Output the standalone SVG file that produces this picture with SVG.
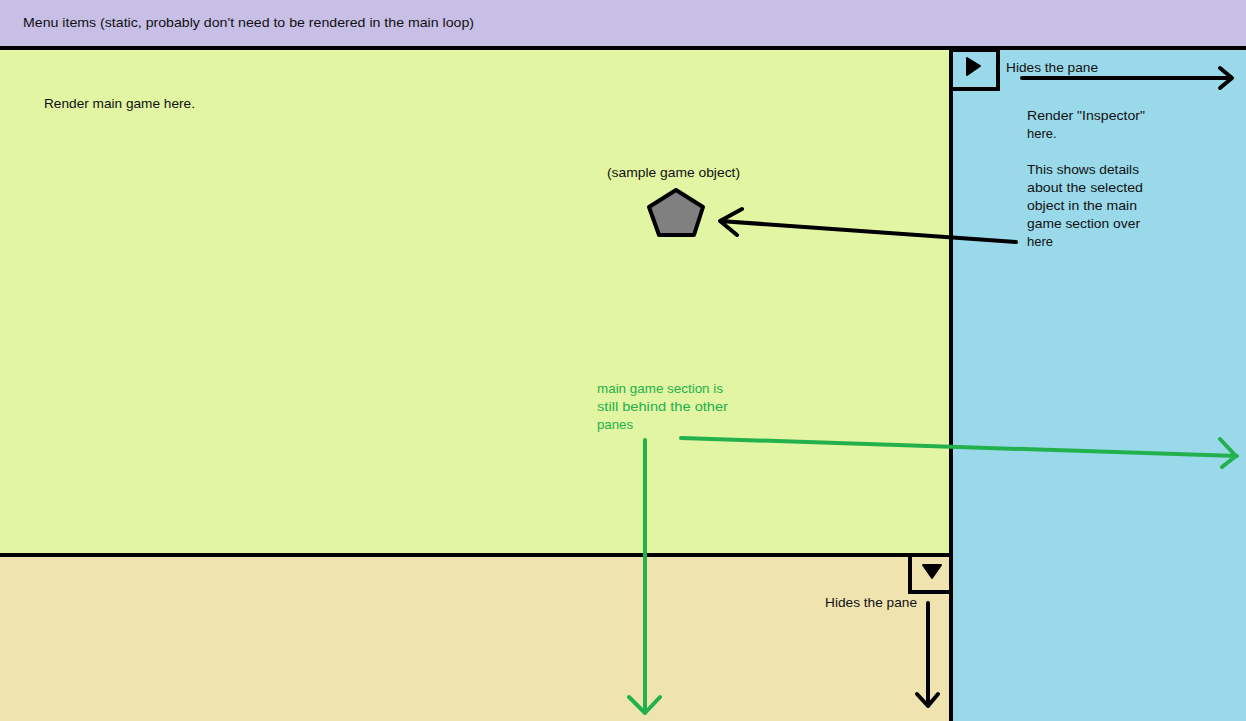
<svg xmlns="http://www.w3.org/2000/svg" width="1246" height="721" viewBox="0 0 1246 721">
<style>
text{font-family:"Liberation Sans",Arial,sans-serif;font-size:13px;fill:#111}
.g{fill:#22b14c}
.ln{stroke:#000;stroke-width:4;fill:none;stroke-linecap:round;stroke-linejoin:round}
.gl{stroke:#22b14c;stroke-width:4;fill:none;stroke-linecap:round;stroke-linejoin:round}
</style>
<g id="menu">
<rect x="0" y="0" width="1246" height="48" fill="#c8bfe7"/>
<text x="23" y="27" textLength="451" lengthAdjust="spacingAndGlyphs">Menu items (static, probably don't need to be rendered in the main loop)</text>
</g>
<g id="main-game">
<rect x="0" y="48" width="951" height="507" fill="#e2f5a2"/>
<text x="44" y="108" textLength="151" lengthAdjust="spacingAndGlyphs">Render main game here.</text>
</g>
<g id="bottom-pane">
<rect x="0" y="555" width="951" height="166" fill="#efe4b0"/>
</g>
<g id="inspector">
<rect x="951" y="48" width="295" height="673" fill="#99d9ea"/>
<text x="1027" y="120" textLength="118" lengthAdjust="spacingAndGlyphs">Render "Inspector"</text>
<text x="1027" y="138">here.</text>
<text x="1027" y="174" textLength="112" lengthAdjust="spacingAndGlyphs">This shows details</text>
<text x="1027" y="192" textLength="116" lengthAdjust="spacingAndGlyphs">about the selected</text>
<text x="1027" y="210" textLength="110" lengthAdjust="spacingAndGlyphs">object in the main</text>
<text x="1027" y="228" textLength="113" lengthAdjust="spacingAndGlyphs">game section over</text>
<text x="1027" y="246">here</text>
</g>
<g id="borders">
<rect x="0" y="46" width="1246" height="4" fill="#000"/>
<rect x="949" y="48" width="4" height="673" fill="#000"/>
<rect x="0" y="553" width="953" height="4" fill="#000"/>
</g>
<g id="right-toggle">
<path d="M951 50 H998 V89 H951" fill="none" stroke="#000" stroke-width="4"/>
<polygon points="967,58 980,66 967,75" fill="#000" stroke="#000" stroke-width="2" stroke-linejoin="round"/>
<text x="1006" y="72" textLength="92" lengthAdjust="spacingAndGlyphs">Hides the pane</text>
</g>
<g id="bottom-toggle">
<path d="M951 555 V592 H910 V555" fill="none" stroke="#000" stroke-width="4"/>
<polygon points="923,565 941,565 932,578" fill="#000" stroke="#000" stroke-width="2" stroke-linejoin="round"/>
<text x="825" y="607" textLength="92" lengthAdjust="spacingAndGlyphs">Hides the pane</text>
</g>
<g id="sample-object">
<text x="607" y="177" textLength="133" lengthAdjust="spacingAndGlyphs">(sample game object)</text>
<polygon points="676,190 703,207 694,235 659,235 649,207" fill="#808080" stroke="#000" stroke-width="4" stroke-linejoin="round"/>
</g>
<g id="green-note">
<text class="g" x="597" y="393" textLength="126" lengthAdjust="spacingAndGlyphs">main game section is</text>
<text class="g" x="597" y="411" textLength="131" lengthAdjust="spacingAndGlyphs">still behind the other</text>
<text class="g" x="597" y="429" textLength="36" lengthAdjust="spacingAndGlyphs">panes</text>
</g>
<g id="connectors">
<path class="ln" d="M1022 78 H1231 M1220 68 L1232 78 L1220 88"/>
<path class="ln" d="M1016 242 L720 221 M742 209 L720 221 L737 235"/>
<path class="ln" d="M928 603 V706 M917 694 L928 706 L938 694"/>
<path class="gl" d="M681 438 L1237 456 M1220 439 L1236 456 L1222 467"/>
<path class="gl" d="M645 440 V713 M629 697 L645 713 L660 697"/>
</g>
</svg>
